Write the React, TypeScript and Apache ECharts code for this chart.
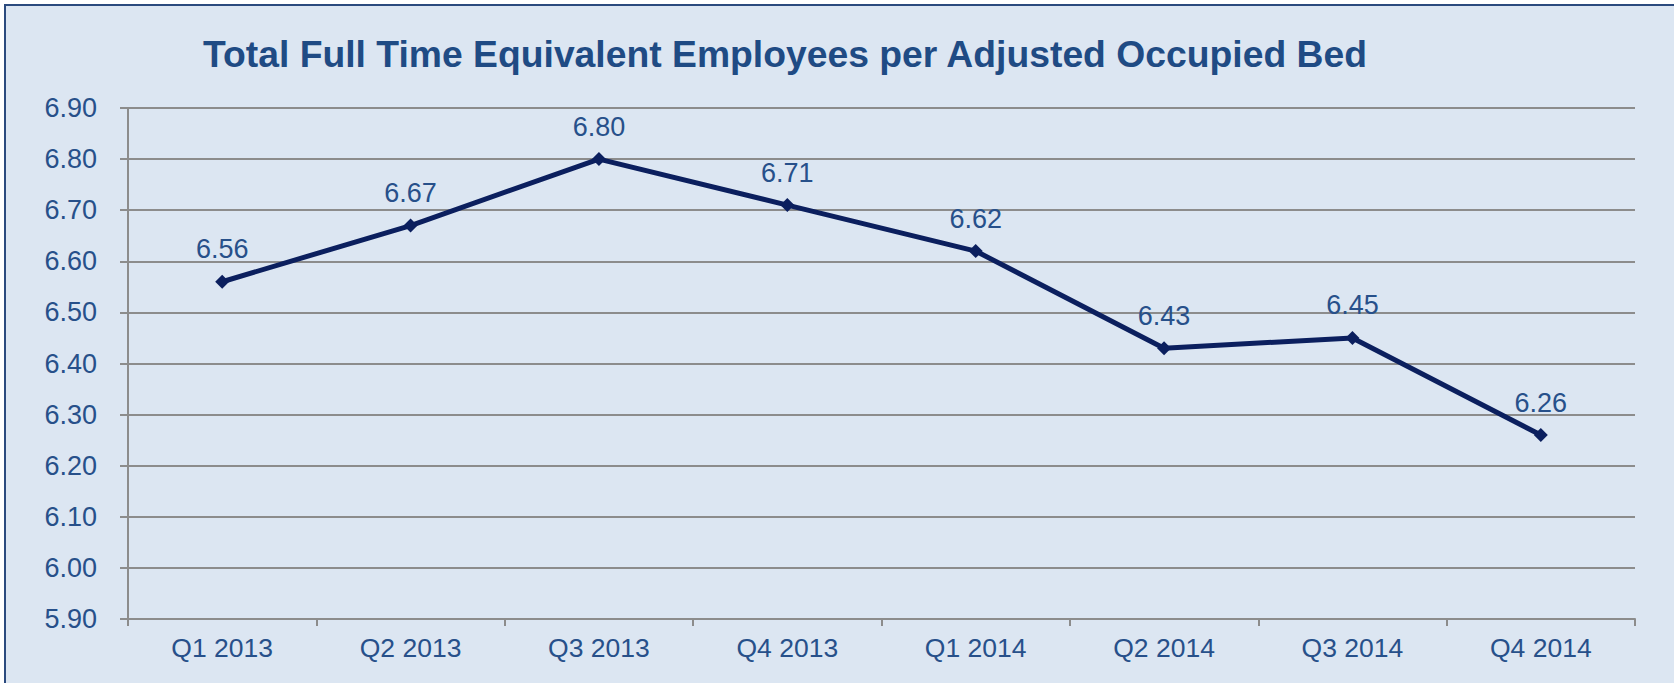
import React, { useEffect, useRef } from "react";
import * as echarts from "echarts";

const categories = ["Q1 2013", "Q2 2013", "Q3 2013", "Q4 2013", "Q1 2014", "Q2 2014", "Q3 2014", "Q4 2014"];
const values = [6.56, 6.67, 6.8, 6.71, 6.62, 6.43, 6.45, 6.26];
const yMin = 5.9;
const yMax = 6.9;
const yInterval = 0.1;
const title = "Total Full Time Equivalent Employees per Adjusted Occupied Bed";

export default function App() {
  const ref = useRef<HTMLDivElement>(null);
  useEffect(() => {
    const chart = echarts.init(ref.current!, null, { renderer: "svg" });
    const labelColor = "#27508a";
    chart.setOption({
      animation: false,
      backgroundColor: "#ffffff",
      textStyle: { fontFamily: "Liberation Sans, Arial, sans-serif" },
      graphic: [
        {
          type: "rect",
          z: -10,
          silent: true,
          shape: { x: 5, y: 5, width: 1690, height: 700 },
          style: { fill: "#dce6f2", stroke: "#2b4a7e", lineWidth: 2 },
        },
        {
          type: "text",
          left: 203,
          top: 35,
          style: {
            text: title,
            fill: "#1f4b84",
            font: "bold 37.3px 'Liberation Sans', Arial, sans-serif",
          },
        },
      ],
      grid: { left: 128, right: 39, top: 108, bottom: 64, containLabel: false },
      xAxis: {
        type: "category",
        data: categories,
        boundaryGap: true,
        axisLine: { lineStyle: { color: "#8c8c8c", width: 2 } },
        axisTick: { show: true, length: 7, lineStyle: { color: "#8c8c8c", width: 2 }, alignWithLabel: false },
        axisLabel: { color: labelColor, fontSize: 26.5, margin: 15 },
      },
      yAxis: {
        type: "value",
        min: yMin,
        max: yMax,
        interval: yInterval,
        axisLine: { show: true, lineStyle: { color: "#8c8c8c", width: 2 } },
        axisTick: { show: true, length: 8, lineStyle: { color: "#8c8c8c", width: 2 } },
        axisLabel: {
          color: labelColor,
          fontSize: 27,
          margin: 31,
          formatter: (v: number) => v.toFixed(2),
        },
        splitLine: { lineStyle: { color: "#8c8c8c", width: 2 } },
      },
      series: [
        {
          type: "line",
          data: values,
          symbol: "diamond",
          symbolSize: 14,
          lineStyle: { color: "#0b1f5e", width: 5 },
          itemStyle: { color: "#0b1f5e" },
          label: {
            show: true,
            position: "top",
            distance: 12,
            color: labelColor,
            fontSize: 27,
            formatter: (p: any) => Number(p.value).toFixed(2),
          },
        },
      ],
    });
    return () => chart.dispose();
  }, []);
  return (
    <div
      ref={ref}
      style={{ position: "absolute", left: 0, top: 0, width: 1674, height: 683 }}
    />
  );
}
